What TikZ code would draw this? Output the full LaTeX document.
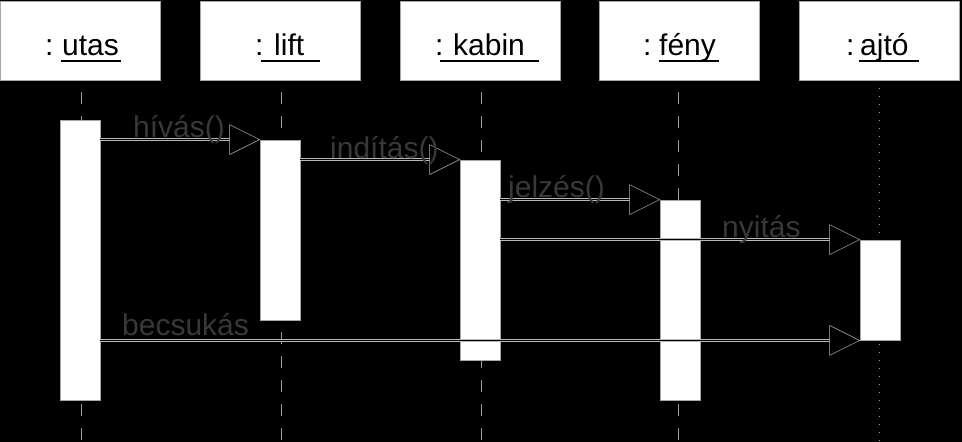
\documentclass[tikz,border=0pt]{standalone}
\usepackage{fontspec}
\setmainfont{Liberation Sans}
\begin{document}
\begin{tikzpicture}[x=1pt,y=-1pt,
  objbox/.style={draw=gray!70, line width=0.8pt, fill=white, minimum width=160pt, minimum height=79pt, inner sep=0pt},
  actbar/.style={draw=gray!70, line width=0.8pt, fill=white, inner sep=0pt, minimum width=40pt},
  lifeline/.style={draw=gray!75, line width=0.5pt, double=black, double distance=1pt, dash pattern=on 12pt off 12pt, dash phase=12pt},
  dotline/.style={draw=gray!75, line width=0.9pt, dash pattern=on 1pt off 7pt},
  msg/.style={draw=black, line width=1.4pt, shorten >=30pt, preaction={draw=gray!55, line width=2.8pt, shorten >=30pt}},
  cross/.style={draw=black, line width=1.6pt},
  head/.style={draw=gray!60, line width=0.5pt, fill=black},
  objtext/.style={inner sep=0pt, anchor=base west, font=\fontsize{30}{36}\selectfont, text=black},
  msgtext/.style={inner sep=0pt, anchor=base west, font=\fontsize{30}{36}\selectfont, text=black!78},
  uline/.style={line width=1.8pt, black}]
\useasboundingbox (0,0) rectangle (962,442);
\fill[black] (0,0) rectangle (962,442);

% object boxes
\node[objbox] (utas)  at (80.5,40.5) {};
\node[objbox] (lift)  at (280.5,40.5) {};
\node[objbox] (kabin) at (480.5,40.5) {};
\node[objbox] (feny)  at (679,40.5) {};
\node[objbox] (ajto)  at (879,40.5) {};

% lifelines
\draw[lifeline] (utas.south) -- (utas.south |- 0,442);
\draw[lifeline] (lift.south) -- (lift.south |- 0,442);
\draw[lifeline] (kabin.south) -- (kabin.south |- 0,442);
\draw[lifeline] (feny.south) -- (feny.south |- 0,442);
\draw[dotline] (ajto.south) -- (ajto.south |- 0,442);

% object labels
\node[objtext] (utasc) at (45,55) {:};
\node[objtext] (utasn) at (62,55) {utas};
\node[objtext] (liftc) at (255,55) {:};
\node[objtext] (liftn) at (274,55) {lift};
\node[objtext] (kabinc) at (435,55) {:};
\node[objtext] (kabinn) at (453,55) {kabin};
\node[objtext] (fenyc) at (643,55) {:};
\node[objtext] (fenyn) at (659,55) {fény};
\node[objtext] (ajtoc) at (846,55) {:};
\node[objtext] (ajton) at (860,55) {ajtó};
\draw[uline] (61,61) -- (121,61);
\draw[uline] (261,61) -- (320,61);
\draw[uline] (440,61) -- (539,61);
\draw[uline] (659,61) -- (719,61);
\draw[uline] (859,61) -- (919,61);

% activation bars
\node[actbar, minimum height=280pt] (utasbar)  at (80,260) {};
\node[actbar, minimum height=180pt] (liftbar)  at (280,230) {};
\node[actbar, minimum height=200pt] (kabinbar) at (480,260) {};
\node[actbar, minimum height=200pt] (fenybar)  at (680,300) {};
\node[actbar, minimum height=100pt] (ajtobar)  at (880,290) {};

% messages
\draw[msg] (liftbar.north west -| utasbar.east) -- (liftbar.north west);
\draw[head] (liftbar.north west) -- ++(-30,-15) -- ++(0,30) -- cycle;
\draw[msg] (kabinbar.north west -| liftbar.east) -- (kabinbar.north west);
\draw[head] (kabinbar.north west) -- ++(-30,-15) -- ++(0,30) -- cycle;
\draw[msg] (fenybar.north west -| kabinbar.east) -- (fenybar.north west);
\draw[head] (fenybar.north west) -- ++(-30,-15) -- ++(0,30) -- cycle;
\draw[msg] (kabinbar.east |- ajtobar.north west) -- (ajtobar.north west);
\draw[head] (ajtobar.north west) -- ++(-30,-15) -- ++(0,30) -- cycle;
\draw[msg] (utasbar.east |- ajtobar.south west) -- (ajtobar.south west);
\draw[head] (ajtobar.south west) -- ++(-30,-15) -- ++(0,30) -- cycle;

% where the messages cross activation bars
\draw[cross] (fenybar.west |- ajtobar.north) -- (fenybar.east |- ajtobar.north);
\draw[cross] (kabinbar.west |- ajtobar.south) -- (kabinbar.east |- ajtobar.south);
\draw[cross] (fenybar.west |- ajtobar.south) -- (fenybar.east |- ajtobar.south);

% message labels
\node[msgtext] (m1) at (133,137) {hívás()};
\node[msgtext] (m2) at (330,158) {indítás()};
\node[msgtext] (m3) at (508,197) {jelzés()};
\node[msgtext] (m4) at (722,237) {nyitás};
\node[msgtext] (m5) at (122,335) {becsukás};
\end{tikzpicture}
\end{document}
